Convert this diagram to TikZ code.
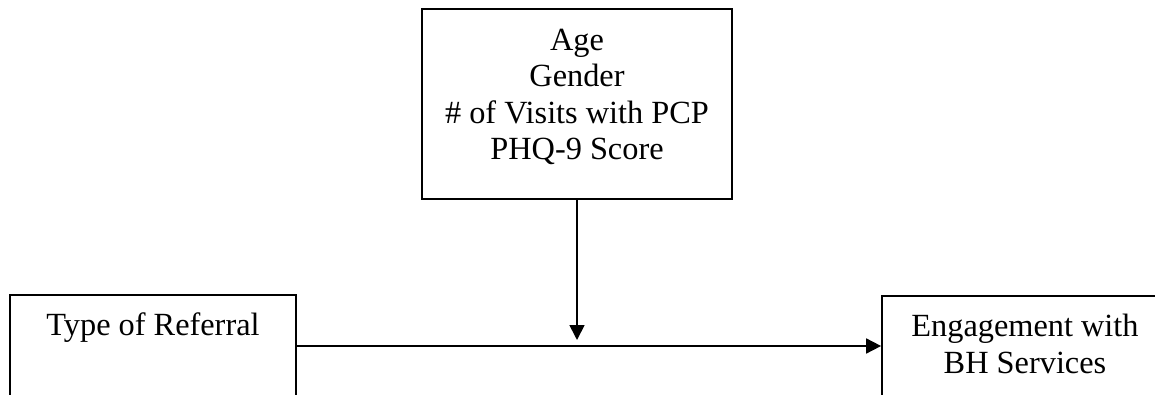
\documentclass[tikz,border=0pt]{standalone}
\usepackage{fontspec}
\setmainfont{Liberation Serif}
\usetikzlibrary{arrows.meta,positioning}

\begin{document}
\begin{tikzpicture}[
    frame/.style={rectangle, draw, line width=1pt, inner sep=0pt},
    caption/.style={align=center, inner sep=0pt, font=\fontsize{18.4}{20.8}\selectfont},
    arrow/.style={-{Triangle[length=0.3cm,width=0.3cm]}, line width=1pt}
]
\useasboundingbox (0,0) rectangle (23.1,7.88);

\node[frame, minimum width=6.2cm, minimum height=3.8cm] (covars) at (11.54,5.80) {};
\node[caption, anchor=base] (covtext) at (11.54,4.68) {Age\\Gender\\\# of Visits with PCP\\PHQ-9 Score};

\node[frame, minimum width=5.72cm, minimum height=2.04cm] (referral) at (3.06,0.96) {};
\node[caption, anchor=base] (reftext) at (3.06,1.18) {Type of Referral};

\node[frame, minimum width=5.72cm, minimum height=2.0cm] (engage) at (20.5,0.96) {};
\node[caption, anchor=base] (engtext) at (20.5,0.42) {Engagement with\\BH Services};

\coordinate (meet) at (11.54,1.08);

\draw[arrow] (referral.east) -- (engage.west);
\draw[arrow] (covars.south) -- (meet);

\end{tikzpicture}
\end{document}
